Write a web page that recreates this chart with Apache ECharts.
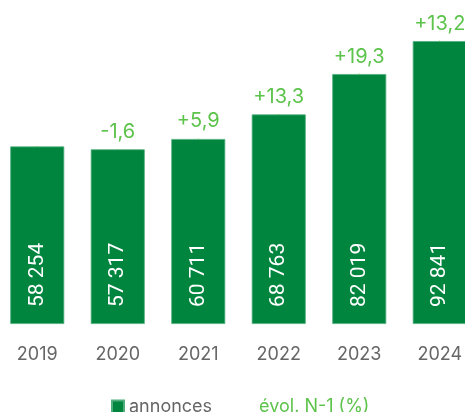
<!DOCTYPE html>
<html>
<head>
<meta charset="utf-8">
<script src="https://cdn.jsdelivr.net/npm/echarts@6/dist/echarts.min.js"></script>
<style>
  html, body { margin: 0; padding: 0; background: #fff; }
  #chart { width: 465px; height: 412px; }
</style>
</head>
<body>
<div id="chart"></div>
<script>
// données
var years = ["2019", "2020", "2021", "2022", "2023", "2024"];
var annonces = [58254, 57317, 60711, 68763, 82019, 92841];
var evol = [null, -1.6, 5.9, 13.3, 19.3, 13.2];

var darkGreen = "#00853f";
var lightGreen = "#5cc34b";

function fmtNum(v) {
    // 58254 -> "58 254"
    return String(v).replace(/\B(?=(\d{3})+(?!\d))/g, " ");
}

function fmtEvol(v) {
    if (v === null || v === undefined) return "";
    var s = v.toFixed(1).replace(".", ",");
    return v > 0 ? "+" + s : s;
}

var myChart = echarts.init(document.getElementById("chart"));

var option = {
    animation: false,
    grid: {
        left: -3,
        right: -15,
        top: 4,
        bottom: 88,
        outerBoundsMode: "none",
        containLabel: false
    },
    legend: {
        left: 106,
        top: 393,
        itemWidth: 12,
        itemHeight: 13,
        itemGap: 30,
        textStyle: {
            fontFamily: "Inter",
            fontSize: 18,
            color: "#666"
        },
        data: [
            { name: "annonces", icon: "rect" },
            { name: "évol. N-1 (%)", icon: "none", textStyle: { color: lightGreen } }
        ]
    },
    xAxis: {
        type: "category",
        data: years,
        axisLine: { show: false },
        axisTick: { show: false },
        axisLabel: {
            margin: 22,
            fontFamily: "Inter",
            fontSize: 18,
            color: "#666"
        }
    },
    yAxis: {
        type: "value",
        min: 0,
        max: 105000,
        show: false,
        splitLine: { show: false }
    },
    series: [
        {
            name: "annonces",
            type: "bar",
            data: annonces,
            barWidth: 54,
            itemStyle: {
                color: darkGreen,
                borderColor: "#4fae7b",
                borderWidth: 0.8
            },
            label: {
                show: true,
                position: "insideBottom",
                rotate: 90,
                align: "left",
                verticalAlign: "middle",
                distance: 17,
                fontFamily: "Roboto",
                fontSize: 21,
                color: "#fff",
                formatter: function (p) {
                    return fmtNum(p.value);
                }
            }
        },
        {
            name: "évol. N-1 (%)",
            type: "line",
            data: annonces,
            symbol: "circle",
            symbolSize: 1,
            itemStyle: { color: lightGreen, borderWidth: 0 },
            lineStyle: { width: 0, opacity: 0 },
            label: {
                show: true,
                position: "top",
                distance: 7,
                fontFamily: "Inter",
                fontSize: 20,
                color: lightGreen,
                formatter: function (p) {
                    return fmtEvol(evol[p.dataIndex]);
                }
            }
        }
    ]
};

myChart.setOption(option, true);
</script>
</body>
</html>
